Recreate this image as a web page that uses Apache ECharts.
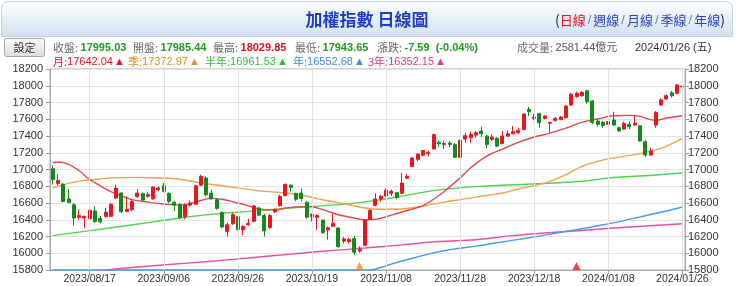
<!DOCTYPE html>
<html><head><meta charset="utf-8">
<script src="https://cdn.jsdelivr.net/npm/echarts/dist/echarts.min.js"></script>
<style>html,body{margin:0;padding:0;background:#fff}#c{width:740px;height:286px}</style>
</head><body><div id="c"></div>
<script>
// ---- data ----
const dates = [
'2023/08/08','2023/08/09','2023/08/10','2023/08/11','2023/08/14','2023/08/15','2023/08/16','2023/08/17','2023/08/18','2023/08/21',
'2023/08/22','2023/08/23','2023/08/24','2023/08/25','2023/08/28','2023/08/29','2023/08/30','2023/08/31','2023/09/01','2023/09/04',
'2023/09/05','2023/09/06','2023/09/07','2023/09/08','2023/09/11','2023/09/12','2023/09/13','2023/09/14','2023/09/15','2023/09/18',
'2023/09/19','2023/09/20','2023/09/21','2023/09/22','2023/09/25','2023/09/26','2023/09/27','2023/09/28','2023/10/02','2023/10/03',
'2023/10/04','2023/10/05','2023/10/06','2023/10/11','2023/10/12','2023/10/13','2023/10/16','2023/10/17','2023/10/18','2023/10/19',
'2023/10/20','2023/10/23','2023/10/24','2023/10/25','2023/10/26','2023/10/27','2023/10/30','2023/10/31','2023/11/01','2023/11/02',
'2023/11/03','2023/11/06','2023/11/07','2023/11/08','2023/11/09','2023/11/10','2023/11/13','2023/11/14','2023/11/15','2023/11/16',
'2023/11/17','2023/11/20','2023/11/21','2023/11/22','2023/11/23','2023/11/24','2023/11/27','2023/11/28','2023/11/29','2023/11/30',
'2023/12/01','2023/12/04','2023/12/05','2023/12/06','2023/12/07','2023/12/08','2023/12/11','2023/12/12','2023/12/13','2023/12/14',
'2023/12/15','2023/12/18','2023/12/19','2023/12/20','2023/12/21','2023/12/22','2023/12/25','2023/12/26','2023/12/27','2023/12/28',
'2023/12/29','2024/01/02','2024/01/03','2024/01/04','2024/01/05','2024/01/08','2024/01/09','2024/01/10','2024/01/11','2024/01/12',
'2024/01/15','2024/01/16','2024/01/17','2024/01/18','2024/01/19','2024/01/22','2024/01/23','2024/01/24','2024/01/25','2024/01/26'];
const tickDates = ['2023/08/17','2023/09/06','2023/09/26','2023/10/19','2023/11/08','2023/11/28','2023/12/18','2024/01/08','2024/01/26'];

const opens = [17010,16835,16826,16647,16579,16430,16420,16410,16505,16415,
16440,16440,16659,16719,16500,16520,16679,16710,16680,16650,
16760,16806,16715,16610,16580,16435,16575,16585,16812,16898,
16719,16640,16488,16261,16353,16436,16281,16340,16381,16540,
16450,16307,16495,16567,16690,16812,16715,16719,16608,16435,
16430,16396,16277,16321,16301,16145,16140,16175,16026,16096,
16405,16572,16648,16684,16716,16723,16715,16897,17037,17121,
17171,17190,17245,17324,17300,17316,17296,17145,17364,17380,
17411,17459,17399,17360,17372,17308,17399,17427,17439,17479,
17718,17610,17666,17610,17553,17587,17598,17618,17770,17870,
17881,17940,17818,17579,17563,17539,17591,17499,17483,17539,
17531,17523,17332,17173,17530,17770,17842,17915,17909,17985.44];
const closes = [16880,16870,16619,16607,16420,16450,16440,16515,16380,16375,
16490,16585,16778,16495,16525,16619,16719,16635,16700,16790,
16780,16738,16619,16575,16425,16575,16600,16806,16918,16699,
16650,16536,16313,16340,16460,16281,16320,16356,16565,16455,
16267,16450,16522,16679,16822,16785,16644,16654,16430,16465,
16450,16245,16305,16357,16078,16171,16165,16012,16045,16396,
16512,16648,16680,16753,16740,16666,16839,16920,17137,17183,
17227,17205,17416,17308,17310,17300,17145,17346,17404,17420,
17439,17427,17300,17388,17280,17399,17427,17451,17467,17662,
17690,17626,17559,17638,17563,17610,17626,17758,17897,17909,
17921,17810,17560,17539,17523,17571,17531,17460,17551,17511,
17551,17340,17173,17221,17680,17830,17882,17880,18009,17995.03];
const lows = [16820,16810,16607,16600,16330,16400,16300,16260,16360,16355,
16420,16435,16647,16480,16490,16500,16660,16620,16665,16640,
16740,16727,16600,16505,16405,16405,16560,16575,16800,16680,
16640,16520,16300,16200,16340,16273,16215,16330,16369,16440,
16200,16295,16484,16560,16679,16735,16620,16620,16410,16380,
16281,16237,16162,16321,16068,16117,16117,15977,16006,16086,
16396,16560,16614,16675,16684,16648,16705,16888,17030,17097,
17157,17157,17237,17268,17245,17268,17137,17137,17320,17320,
17380,17388,17252,17340,17268,17308,17388,17419,17427,17467,
17638,17587,17499,17599,17440,17571,17587,17610,17758,17858,
17870,17790,17540,17511,17499,17531,17523,17451,17471,17483,
17523,17332,17153,17165,17499,17762,17830,17858,17897,17943.65];
const highs = [17050,16940,16838,16766,16600,16520,16450,16560,16560,16445,
16540,16600,16818,16727,16680,16640,16766,16727,16730,16800,
16800,16840,16727,16620,16600,16595,16630,16818,16938,16918,
16760,16660,16500,16365,16485,16445,16335,16410,16580,16555,
16470,16470,16536,16699,16834,16822,16723,16772,16620,16474,
16466,16404,16317,16476,16313,16194,16185,16210,16082,16408,
16528,16715,16694,16773,16760,16731,16958,16948,17147,17197,
17236,17222,17428,17348,17336,17336,17316,17356,17438,17451,
17459,17511,17411,17419,17388,17459,17467,17519,17499,17670,
17746,17666,17678,17650,17567,17626,17638,17770,17917,17929,
17937,17950,17830,17611,17579,17651,17690,17511,17571,17571,
17651,17531,17352,17261,17698,17850,17897,17937,18017,18029.85];

// moving averages: [category index, value]
const maMonth = [[0,17080],[1,17089],[3,17060],[5,16985],[7,16880],[9,16805],[11,16735],[13,16685],[15,16640],[18,16610],[20,16595],[23,16578],[25,16580],[28,16630],[30,16655],[32,16645],[35,16600],[37,16565],[39,16530],[42,16515],[44,16540],[47,16555],[49,16555],[51,16520],[54,16460],[57,16420],[59,16400],[61,16405],[64,16455],[67,16510],[70,16570],[73,16690],[75,16790],[77,16900],[79,17020],[82,17160],[85,17244],[88,17324],[91,17388],[94,17435],[97,17495],[100,17563],[103,17603],[106,17642],[109,17646],[111,17634],[113,17595],[114,17587],[116,17615],[119,17642.04]];
const maQuarter = [[0,16779],[3,16835],[6,16870],[9,16886],[12,16903],[16,16906],[20,16898],[24,16884],[28,16840],[31,16815],[35,16780],[39,16745],[44,16720],[48,16680],[51,16639],[54,16605],[56,16579],[59,16540],[62,16525],[65,16525],[68,16545],[71,16575],[74,16610],[77,16640],[80,16670],[82,16690],[85,16719],[88,16767],[91,16807],[94,16858],[97,16938],[100,17037],[103,17097],[106,17137],[109,17165],[112,17205],[115,17256],[117,17308],[119,17372.97]];
const maHalfYear = [[0,16210],[10,16295],[19,16375],[25,16430],[31,16470],[37,16500],[42,16525],[48,16555],[54,16580],[58,16605],[64,16660],[71,16739],[76,16775],[80,16795],[86,16815],[92,16830],[100,16860],[106,16905],[112,16925],[119,16961.53]];
const maYear = [[0,15800],[60,15800],[62,15830],[65,15890],[68,15940],[71,15990],[74,16030],[77,16060],[80,16085],[84,16125],[88,16165],[92,16205],[96,16250],[100,16292],[104,16340],[108,16390],[112,16448],[116,16505],[119,16552.68]];
const ma3Year = [[10,15800],[15,15830],[22,15865],[30,15905],[37,15943],[45,15990],[52,16030],[59,16062],[66,16100],[73,16140],[80,16162],[87,16210],[93,16241],[100,16272],[106,16301],[112,16325],[119,16352.15]];

const quarterSignals = ['2023/11/01'];
const monthSignals = ['2023/12/28'];

const yMin = 15800, yMax = 18200, yStep = 200;

// header texts
const titleText = '加權指數 日線圖';
const periodLinks = ['日線','週線','月線','季線','年線'];
const infoItems = [
  ['收盤: ','17995.03','g'], ['開盤: ','17985.44','g'], ['最高: ','18029.85','r'],
  ['最低: ','17943.65','g'], ['漲跌: ','-7.59  (-0.04%)','g'], ['成交量: ','2581.44億元','n']
];
const infoDate = '2024/01/26 (五)';
const maLegend = [
  ['月:','17642.04','#e8141e'], ['季:','17372.97','#f08a1c'], ['半年:','16961.53','#2fc22f'],
  ['年:','16552.68','#3a8ee6'], ['3年:','16352.15','#e8358f']
];

// ---- layout / styles ----
const FN = '"Liberation Sans","Noto Sans CJK TC",sans-serif';
const CJK = '"Noto Sans CJK TC","Liberation Sans",sans-serif';
const infoX = [53,133,213,295,377,517];
const legendX = [53,128,205,293,368];

const graphics = [];
graphics.push({type:'rect', silent:true, z:0, shape:{x:1.5,y:1.5,width:731,height:35,r:[7,7,0,0]},
  style:{fill:{type:'linear',x:0,y:0,x2:0,y2:1,colorStops:[{offset:0,color:'#ffffff'},{offset:1,color:'#d0e0f2'}]}, stroke:'#c2d0df', lineWidth:1}});
graphics.push({type:'text', x:367, y:20, silent:true,
  style:{text:titleText, fill:'#1f3dc4', font:'bold 17px '+CJK, align:'center', verticalAlign:'middle', textAlign:'center', textVerticalAlign:'middle'}});
let linkStr = '{p|(}';
periodLinks.forEach((t,i)=>{ linkStr += (i? '{s|/}':'') + (i===0? '{r|'+t+'}' : '{b|'+t+'}'); });
linkStr += '{p|)}';
graphics.push({type:'text', x:555, y:20, silent:true,
  style:{text:linkStr, verticalAlign:'middle', textVerticalAlign:'middle', font:'13px '+CJK,
    rich:{p:{fill:'#223',font:'14px '+CJK}, r:{fill:'#e8141e',font:'13px '+CJK}, b:{fill:'#2b45c8',font:'13px '+CJK}, s:{fill:'#7080b0',font:'13px '+FN, padding:[0,2,0,2]}}}});
// button
graphics.push({type:'rect', silent:true, shape:{x:4.5,y:38.5,width:40,height:18,r:2},
  style:{fill:{type:'linear',x:0,y:0,x2:0,y2:1,colorStops:[{offset:0,color:'#fbfbfb'},{offset:1,color:'#dcdcdc'}]}, stroke:'#a5a5a5', lineWidth:1}});
graphics.push({type:'text', x:24.5, y:47.5, silent:true,
  style:{text:'設定', fill:'#333', font:'11px '+CJK, align:'center', verticalAlign:'middle', textAlign:'center', textVerticalAlign:'middle'}});
const richInfo = {
  l:{fill:'#6a6a6a', font:'11px '+CJK},
  g:{fill:'#1f9a1f', font:'bold 11px '+FN},
  r:{fill:'#e01020', font:'bold 11px '+FN},
  n:{fill:'#555', font:'11px '+FN},
  d:{fill:'#333', font:'11px '+FN}
};
infoItems.forEach((it,i)=>{
  graphics.push({type:'text', x:infoX[i], y:47.5, silent:true,
    style:{text:'{l|'+it[0]+'}{'+it[2]+'|'+it[1]+'}', verticalAlign:'middle', textVerticalAlign:'middle', rich:richInfo}});
});
graphics.push({type:'text', x:635, y:47.5, silent:true,
  style:{text:'{d|'+infoDate+'}', verticalAlign:'middle', textVerticalAlign:'middle', rich:richInfo}});
maLegend.forEach((it,i)=>{
  graphics.push({type:'text', x:legendX[i], y:62, silent:true,
    style:{text:'{a|'+it[0]+'}{v|'+it[1]+'}{t|▲}', verticalAlign:'middle', textVerticalAlign:'middle',
      rich:{a:{fill:it[2], font:'11px '+CJK}, v:{fill:it[2], font:'11px '+FN}, t:{fill:it[2], font:'11px '+FN, padding:[0,0,0,1]}}}});
});

const isTick = (i) => tickDates.indexOf(dates[i]) >= 0;

const yAxisBase = {
  type:'value', min:yMin, max:yMax, interval:yStep, scale:false,
  axisLine:{show:true, lineStyle:{color:'#a8a8a8'}},
  axisTick:{show:true, length:4, inside:false, lineStyle:{color:'#999'}},
  axisLabel:{color:'#333', fontSize:11, fontFamily:'Liberation Sans', formatter:(v)=>String(v), hideOverlap:false}
};

const candleData = dates.map((d,i)=>[opens[i], closes[i], lows[i], highs[i]]);
const lineSeries = (name, data, color) => ({
  name, type:'line', data, showSymbol:false, symbol:'none', smooth:0.4, connectNulls:true, z:2,
  lineStyle:{color, width:1.4}, itemStyle:{color}, silent:true
});

const option = {
  animation:false,
  backgroundColor:'#ffffff',
  textStyle:{fontFamily:FN},
  graphic:{elements:graphics},
  grid:{left:50, right:55, top:69, bottom:16, show:true, borderColor:'#a8a8a8', borderWidth:1, containLabel:false, outerBoundsMode:'none'},
  xAxis:{
    type:'category', data:dates, boundaryGap:true,
    axisLine:{show:true, lineStyle:{color:'#a8a8a8'}},
    axisTick:{show:true, alignWithLabel:true, length:4, interval:(i)=>isTick(i), lineStyle:{color:'#999'}},
    axisLabel:{interval:(i)=>isTick(i), color:'#333', fontSize:10.5, fontFamily:'Liberation Sans', margin:4, hideOverlap:false},
    splitLine:{show:false}
  },
  yAxis:[
    Object.assign({}, yAxisBase, {position:'left', axisLabel:Object.assign({}, yAxisBase.axisLabel, {margin:7}), splitLine:{show:true, lineStyle:{color:'#e4e4e4', width:1}}}),
    Object.assign({}, yAxisBase, {position:'right', axisLabel:Object.assign({}, yAxisBase.axisLabel, {margin:3}), splitLine:{show:false}})
  ],
  series:[
    {type:'line', data:[], z:1, silent:true,
      markLine:{silent:true, symbol:['none','none'], label:{show:false}, animation:false,
        lineStyle:{color:'#e2e2e2', type:'solid', width:1}, emphasis:{disabled:true},
        data:tickDates.map(d=>({xAxis:d}))}},
    lineSeries('3年', ma3Year, '#ec4fa6'),
    lineSeries('年', maYear, '#4c9be8'),
    lineSeries('半年', maHalfYear, '#4fd24f'),
    lineSeries('季', maQuarter, '#f5a04c'),
    lineSeries('月', maMonth, '#e8474a'),
    {name:'日K', type:'candlestick', data:candleData, barWidth:3.5, z:3, silent:true,
      itemStyle:{color:'#e8161e', color0:'#138a1e', borderColor:'#e8161e', borderColor0:'#138a1e', borderWidth:1}},
    {type:'scatter', data:quarterSignals.map(d=>[d, yMin]), symbol:'triangle', symbolSize:[8,8], symbolOffset:[0,-4], clip:false, z:4, silent:true,
      itemStyle:{color:'#f28a1a'}},
    {type:'scatter', data:monthSignals.map(d=>[d, yMin]), symbol:'triangle', symbolSize:[8,8], symbolOffset:[0,-4], clip:false, z:4, silent:true,
      itemStyle:{color:'#e8141e'}}
  ]
};
const chart = echarts.init(document.getElementById('c'), null, {renderer:'canvas'});
chart.setOption(option);
</script></body></html>
